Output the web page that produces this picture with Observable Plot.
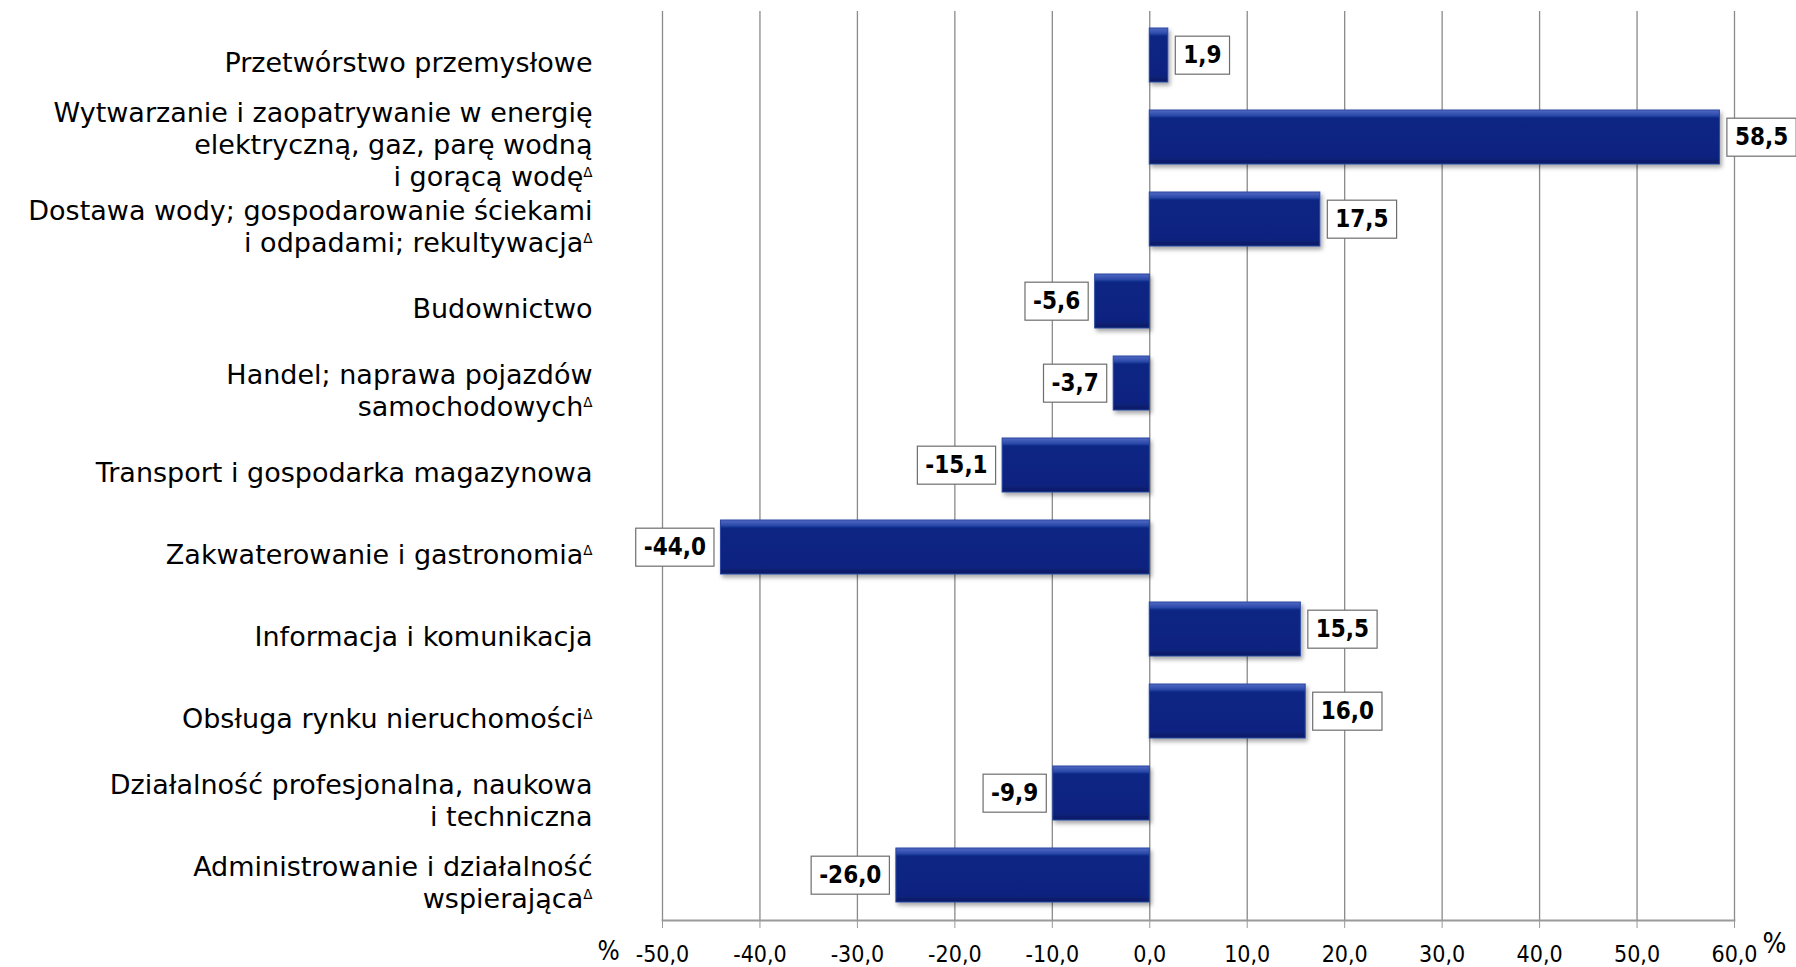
<!DOCTYPE html>
<html><head><meta charset="utf-8">
<script src="https://cdn.jsdelivr.net/npm/d3@7"></script>
<script src="https://cdn.jsdelivr.net/npm/@observablehq/plot@0.6"></script>
<style>
body{margin:0;background:#fff;}
#chart svg{display:block;}
</style></head><body><div id="chart"></div>
<script>
const categories = [
  "Przetwórstwo przemysłowe",
  "Wytwarzanie i zaopatrywanie w energię\nelektryczną, gaz, parę wodną\ni gorącą wodęΔ",
  "Dostawa wody; gospodarowanie ściekami\ni odpadami; rekultywacjaΔ",
  "Budownictwo",
  "Handel; naprawa pojazdów\nsamochodowychΔ",
  "Transport i gospodarka magazynowa",
  "Zakwaterowanie i gastronomiaΔ",
  "Informacja i komunikacja",
  "Obsługa rynku nieruchomościΔ",
  "Działalność profesjonalna, naukowa\ni techniczna",
  "Administrowanie i działalność\nwspierającaΔ"
];
const values = [1.9, 58.5, 17.5, -5.6, -3.7, -15.1, -44.0, 15.5, 16.0, -9.9, -26.0];
const xTicks = [-50, -40, -30, -20, -10, 0, 10, 20, 30, 40, 50, 60];
const unitLabel = "%";

const data = categories.map((c, i) => ({category: c, value: values[i]}));
const fmt = d => d.toFixed(1).replace(".", ",");
const FONT = '"DejaVu Sans Condensed", "DejaVu Sans", sans-serif';

const chart = Plot.plot({
  width: 1796, height: 967,
  marginLeft: 662, marginRight: 62, marginTop: 11, marginBottom: 47,
  style: {fontFamily: FONT, fontStretch: "condensed", fontSize: "22px", color: "#000", background: "#fff", overflow: "hidden"},
  x: {domain: [-50, 60]},
  y: {domain: categories, paddingInner: 0.34, paddingOuter: 0.17, axis: null},
  marks: [
    Plot.ruleX(xTicks, {stroke: "#8a8a8a", strokeWidth: 1.3}),
    Plot.barX(data, {x: "value", y: "category", fill: "url(#barGrad)", stroke: "#2a46a0", strokeWidth: 1}),
    Plot.frame({anchor: "bottom", stroke: "#9a9a9a", strokeWidth: 1.8}),
    Plot.axisX({ticks: xTicks, tickFormat: fmt, tickSize: 8, tickPadding: 17, stroke: "#999", fontSize: 23, label: null}),
    Plot.text(data, {y: "category", text: "category", frameAnchor: "left", dx: -70, dy: 6, textAnchor: "end", lineHeight: 1.19, fontSize: 27, fontFamily: '"DejaVu Sans", sans-serif', fill: "#000"}),
    Plot.text(data.filter(d => d.value >= 0), {x: "value", y: "category", text: d => fmt(d.value), textAnchor: "start", dx: 15, fontSize: 24, fontWeight: "bold", fill: "#000"}),
    Plot.text(data.filter(d => d.value < 0), {x: "value", y: "category", text: d => fmt(d.value), textAnchor: "end", dx: -15, fontSize: 24, fontWeight: "bold", fill: "#000"}),
    Plot.text([unitLabel], {frameAnchor: "bottom-left", textAnchor: "middle", dx: -54, dy: 39, fontSize: 26, fill: "#000"}),
    Plot.text([unitLabel], {frameAnchor: "bottom-right", textAnchor: "middle", dx: 40, dy: 32, fontSize: 28, fill: "#000"})
  ]
});
document.getElementById("chart").append(chart);

const ns = "http://www.w3.org/2000/svg";
const defs = document.createElementNS(ns, "defs");
defs.innerHTML = `
<linearGradient id="barGrad" x1="0" y1="0" x2="0" y2="1">
  <stop offset="0" stop-color="#5069c4"/>
  <stop offset="0.1" stop-color="#2d4aaa"/>
  <stop offset="0.15" stop-color="#0a2583"/>
  <stop offset="0.86" stop-color="#0a2480"/>
  <stop offset="1" stop-color="#061a62"/>
</linearGradient>
<filter id="barShadow" x="-5%" y="-20%" width="110%" height="150%">
  <feDropShadow dx="2" dy="3" stdDeviation="2" flood-color="#000" flood-opacity="0.35"/>
</filter>`;
chart.insertBefore(defs, chart.firstChild);
const barGroup = chart.querySelector('g[aria-label="bar"]');
if (barGroup) barGroup.setAttribute("filter", "url(#barShadow)");

const textGroups = chart.querySelectorAll('g[aria-label="text"]');
if (textGroups[0]) textGroups[0].style.fontStretch = "normal";

// superscript delta
chart.querySelectorAll("text, tspan").forEach(el => {
  Array.from(el.childNodes).forEach(n => {
    if (n.nodeType === 3 && n.nodeValue.includes("Δ")) {
      n.nodeValue = n.nodeValue.replace("Δ", "");
      const s = document.createElementNS(ns, "tspan");
      s.setAttribute("font-size", "0.5em");
      s.setAttribute("baseline-shift", "9px");
      s.textContent = "Δ";
      el.appendChild(s);
    }
  });
});

// boxes around value labels
[textGroups[1], textGroups[2]].forEach(g => {
  if (!g) return;
  g.querySelectorAll("text").forEach(t => {
    const bb = t.getBBox();
    const r = document.createElementNS(ns, "rect");
    const cy = bb.y + bb.height / 2;
    r.setAttribute("x", bb.x - 8);
    r.setAttribute("y", cy - 19);
    r.setAttribute("width", bb.width + 16);
    r.setAttribute("height", 38);
    r.setAttribute("fill", "#fff");
    r.setAttribute("stroke", "#6e6e6e");
    r.setAttribute("stroke-width", "1.2");
    const tr = t.getAttribute("transform");
    if (tr) r.setAttribute("transform", tr);
    g.insertBefore(r, t);
  });
});
</script></body></html>
